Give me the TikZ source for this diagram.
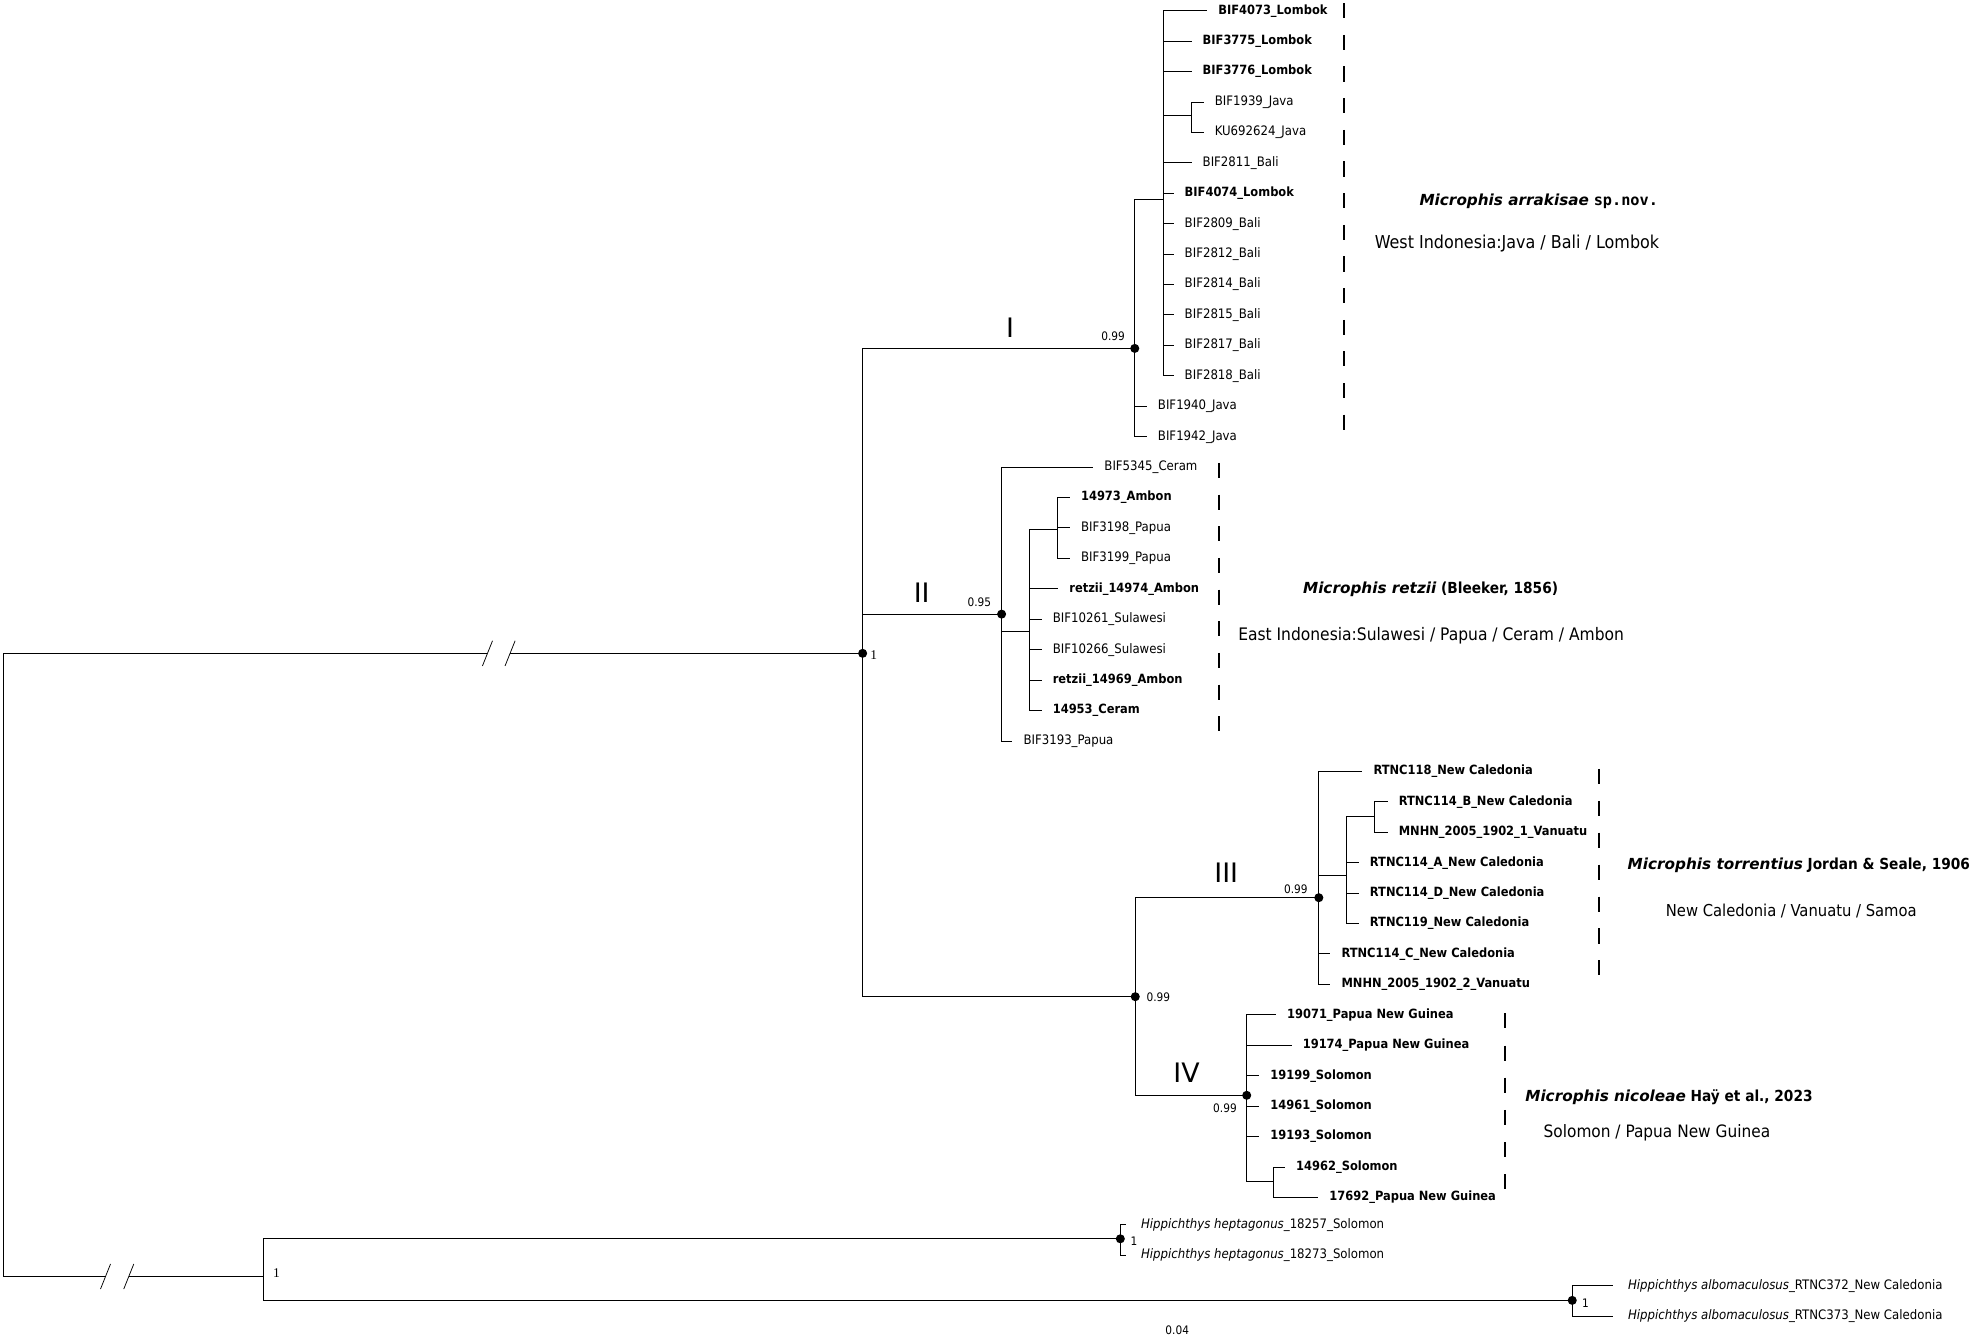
\documentclass[tikz,border=0pt]{standalone}
\usepackage{fontspec}
\setmainfont{DejaVu Sans Condensed}[BoldFont={DejaVu Sans Condensed Bold},ItalicFont={DejaVu Sans Condensed Oblique},BoldItalicFont={DejaVu Sans Condensed Bold Oblique}]
\newfontfamily\widefont{DejaVu Sans}[BoldFont={DejaVu Sans Bold},ItalicFont={DejaVu Sans Oblique},BoldItalicFont={DejaVu Sans Bold Oblique}]
\newfontfamily\monofont{DejaVu Sans Mono}[BoldFont={DejaVu Sans Mono Bold}]
\newfontfamily\oneserif{Liberation Serif}
\newcommand{\spname}[1]{{\widefont\bfseries\itshape #1}}

\begin{document}
\begin{tikzpicture}[x=0.75pt,y=0.75pt,yscale=-1,xscale=1,
  branch/.style={line width=0.6pt},
  tip/.style={anchor=west,inner xsep=6.45pt,inner ysep=0pt,font=\fontsize{7.8}{9}\selectfont},
  btip/.style={tip,font=\fontsize{7.6}{9}\selectfont\bfseries},
  otip/.style={tip,inner xsep=8.7pt},
  supp/.style={inner sep=0pt,font=\fontsize{7}{8}\selectfont},
  cladename/.style={inner sep=0pt,font=\widefont\fontsize{16}{18}\selectfont},
  spec/.style={anchor=west,inner sep=0pt,font=\fontsize{9.1}{10}\selectfont\bfseries},
  region/.style={anchor=west,inner sep=0pt,font=\fontsize{9.8}{11}\selectfont},
  barseg/.style={line width=1.2pt},
  slash/.style={line width=0.45pt}]
\useasboundingbox (0,0) rectangle (1568,1068);

%Internal nodes
\coordinate (root) at (3,768);
\coordinate (nIn) at (686.6,520);
\coordinate (nI) at (903.2,277.3);
\coordinate (nIa) at (926,159);
\coordinate (nIb) at (948.4,92.3);
\coordinate (nII) at (797.2,488.8);
\coordinate (nIIa) at (819.3,502.8);
\coordinate (nIIb) at (841.6,421.3);
\coordinate (nX) at (903.6,793.3);
\coordinate (nIII) at (1049.7,714.5);
\coordinate (nIIIa) at (1071.7,697.2);
\coordinate (nIIIb) at (1094.3,650);
\coordinate (nIV) at (992.3,871.8);
\coordinate (nIVa) at (1014,940);
\coordinate (nOut) at (210,1016);
\coordinate (nHh) at (891.7,986);
\coordinate (nHa) at (1251.4,1035);
%break points
\coordinate (brA) at (388,520);
\coordinate (brB) at (406,520);
\coordinate (brC) at (84,1016);
\coordinate (brD) at (102.5,1016);

% Clade I tips
\node[btip] (t0) at (960.8,8.5) {BIF4073\_Lombok};
\node[btip] (t1) at (948.4,32.7) {BIF3775\_Lombok};
\node[btip] (t2) at (948.4,56.9) {BIF3776\_Lombok};
\node[tip] (t3) at (958,81.2) {BIF1939\_Java};
\node[tip] (t4) at (958,105.4) {KU692624\_Java};
\node[tip] (t5) at (948.4,129.6) {BIF2811\_Bali};
\node[btip] (t6) at (934.1,153.8) {BIF4074\_Lombok};
\node[tip] (t7) at (934.1,178.0) {BIF2809\_Bali};
\node[tip] (t8) at (934.1,202.3) {BIF2812\_Bali};
\node[tip] (t9) at (934.1,226.5) {BIF2814\_Bali};
\node[tip] (t10) at (934.1,250.7) {BIF2815\_Bali};
\node[tip] (t11) at (934.1,274.9) {BIF2817\_Bali};
\node[tip] (t12) at (934.1,299.1) {BIF2818\_Bali};
\node[tip] (t13) at (912.8,323.4) {BIF1940\_Java};
\node[tip] (t14) at (912.8,347.6) {BIF1942\_Java};
% Clade II tips
\node[tip] (t15) at (870.2,371.8) {BIF5345\_Ceram};
\node[btip] (t16) at (851.6,396.0) {14973\_Ambon};
\node[tip] (t17) at (851.6,420.2) {BIF3198\_Papua};
\node[tip] (t18) at (851.6,444.5) {BIF3199\_Papua};
\node[btip] (t19) at (842.3,468.7) {retzii\_14974\_Ambon};
\node[tip] (t20) at (829.1,492.9) {BIF10261\_Sulawesi};
\node[tip] (t21) at (829.1,517.1) {BIF10266\_Sulawesi};
\node[btip] (t22) at (829.1,541.3) {retzii\_14969\_Ambon};
\node[btip] (t23) at (829.1,565.6) {14953\_Ceram};
\node[tip] (t24) at (805.8,589.8) {BIF3193\_Papua};
% Clade III tips
\node[btip] (t25) at (1084.4,614.0) {RTNC118\_New Caledonia};
\node[btip] (t26) at (1104.5,638.2) {RTNC114\_B\_New Caledonia};
\node[btip] (t27) at (1104.5,662.4) {MNHN\_2005\_1902\_1\_Vanuatu};
\node[btip] (t28) at (1081.5,686.7) {RTNC114\_A\_New Caledonia};
\node[btip] (t29) at (1081.5,710.9) {RTNC114\_D\_New Caledonia};
\node[btip] (t30) at (1081.5,735.1) {RTNC119\_New Caledonia};
\node[btip] (t31) at (1058.9,759.3) {RTNC114\_C\_New Caledonia};
\node[btip] (t32) at (1058.9,783.5) {MNHN\_2005\_1902\_2\_Vanuatu};
% Clade IV tips
\node[btip] (t33) at (1015.6,807.8) {19071\_Papua New Guinea};
\node[btip] (t34) at (1028.1,832.0) {19174\_Papua New Guinea};
\node[btip] (t35) at (1002.3,856.2) {19199\_Solomon};
\node[btip] (t36) at (1002.3,880.4) {14961\_Solomon};
\node[btip] (t37) at (1002.3,904.6) {19193\_Solomon};
\node[btip] (t38) at (1022.8,928.9) {14962\_Solomon};
\node[btip] (t39) at (1049.3,953.1) {17692\_Papua New Guinea};
% Outgroup tips
\node[otip] (t40) at (896.4,975) {\textit{Hippichthys heptagonus}\_18257\_Solomon};
\node[otip] (t41) at (896.4,999) {\textit{Hippichthys heptagonus}\_18273\_Solomon};
\node[otip] (t42) at (1284,1023.5) {\textit{Hippichthys albomaculosus}\_RTNC372\_New Caledonia};
\node[otip] (t43) at (1284,1047.5) {\textit{Hippichthys albomaculosus}\_RTNC373\_New Caledonia};

%Straight Lines
\draw[branch] (nIn) -- (brB);
\draw[branch] (brA) -| (root) |- (brC);
\draw[branch] (brD) -- (nOut);
\foreach \b in {brA,brB,brC,brD} \draw[slash] (\b) ++(-4,10) -- ++(8,-20);
\draw[branch] (nIn) |- (nI);
\draw[branch] (nIn) |- (nII);
\draw[branch] (nIn) |- (nX);
% clade I
\draw[branch] (nI) |- (nIa);
\draw[branch] (nI) |- (t13.west);
\draw[branch] (nI) |- (t14.west);
\foreach \t in {t0,t1,t2,t5,t6,t7,t8,t9,t10,t11,t12} \draw[branch] (nIa) |- (\t.west);
\draw[branch] (nIa) |- (nIb);
\draw[branch] (nIb) |- (t3.west);
\draw[branch] (nIb) |- (t4.west);
% clade II
\draw[branch] (nII) |- (t15.west);
\draw[branch] (nII) |- (t24.west);
\draw[branch] (nII) |- (nIIa);
\draw[branch] (nIIa) |- (nIIb);
\foreach \t in {t19,t20,t21,t22,t23} \draw[branch] (nIIa) |- (\t.west);
\foreach \t in {t16,t17,t18} \draw[branch] (nIIb) |- (\t.west);
% clades III and IV
\draw[branch] (nX) |- (nIII);
\draw[branch] (nX) |- (nIV);
\draw[branch] (nIII) |- (nIIIa);
\foreach \t in {t25,t31,t32} \draw[branch] (nIII) |- (\t.west);
\draw[branch] (nIIIa) |- (nIIIb);
\foreach \t in {t28,t29,t30} \draw[branch] (nIIIa) |- (\t.west);
\foreach \t in {t26,t27} \draw[branch] (nIIIb) |- (\t.west);
\foreach \t in {t33,t34,t35,t36,t37} \draw[branch] (nIV) |- (\t.west);
\draw[branch] (nIV) |- (nIVa);
\foreach \t in {t38,t39} \draw[branch] (nIVa) |- (\t.west);
% outgroup
\draw[branch] (nOut) |- (nHh);
\draw[branch] (nOut) |- (nHa);
\draw[branch] (nHh) |- (t40.west);
\draw[branch] (nHh) |- (t41.west);
\draw[branch] (nHa) |- (t42.west);
\draw[branch] (nHa) |- (t43.west);

%Dots
\foreach \n in {nIn,nI,nII,nX,nIII,nIV,nHh,nHa} \fill (\n) circle [radius=3.6];

%Dashed bars
\foreach \k in {0,...,13} \draw[barseg] (1069.9,{2.5+25.2*\k}) -- ++(0,12);
\foreach \k in {0,...,8} \draw[barseg] (970.4,{368.5+25.2*\k}) -- ++(0,12);
\foreach \k in {0,...,6} \draw[barseg] (1272.7,{612+25.4*\k}) -- ++(0,12);
\foreach \k in {0,...,5} \draw[barseg] (1197.9,{806.6+25.6*\k}) -- ++(0,12);

% Text Node
\node[cladename] (lI) at (803.9,261) {I};
\node[cladename] (lII) at (733.6,471.7) {II};
\node[cladename] (lIII) at (976,695) {III};
\node[cladename] (lIV) at (944.4,853.6) {IV};
% Text Node
\node[supp,font=\oneserif\fontsize{8}{9}\selectfont] (s0) at (695.5,521) {1};
\node[supp] (s1) at (886,268) {0.99};
\node[supp] (s2) at (779.5,479.7) {0.95};
\node[supp] (s3) at (1031.4,708) {0.99};
\node[supp] (s4) at (922,793.5) {0.99};
\node[supp] (s5) at (975,882) {0.99};
\node[supp,font=\oneserif\fontsize{8}{9}\selectfont] (s6) at (220,1013) {1};
\node[supp] (s7) at (902.5,988) {1};
\node[supp] (s8) at (1262,1037) {1};
\node[supp] (scale) at (937,1059) {0.04};
% Text Node
\node[spec] (sp1) at (1129.6,160) {\spname{Microphis arrakisae} {\monofont\bfseries sp.nov.}};
\node[region,font=\fontsize{10.6}{12}\selectfont] (rg1) at (1094,194) {West Indonesia:Java / Bali / Lombok};
\node[spec] (sp2) at (1036.9,469) {\spname{Microphis retzii} (Bleeker, 1856)};
\node[region,font=\fontsize{10.3}{12}\selectfont] (rg2) at (985.3,506) {East Indonesia:Sulawesi / Papua / Ceram / Ambon};
\node[spec] (sp3) at (1295.3,689) {\spname{Microphis torrentius} Jordan \& Seale, 1906};
\node[region] (rg3) at (1325.7,725) {New Caledonia / Vanuatu / Samoa};
\node[spec] (sp4) at (1213.8,873) {\spname{Microphis nicoleae} Haÿ et al., 2023};
\node[region,font=\fontsize{10.2}{12}\selectfont] (rg4) at (1228.4,902) {Solomon / Papua New Guinea};

\end{tikzpicture}
\end{document}
